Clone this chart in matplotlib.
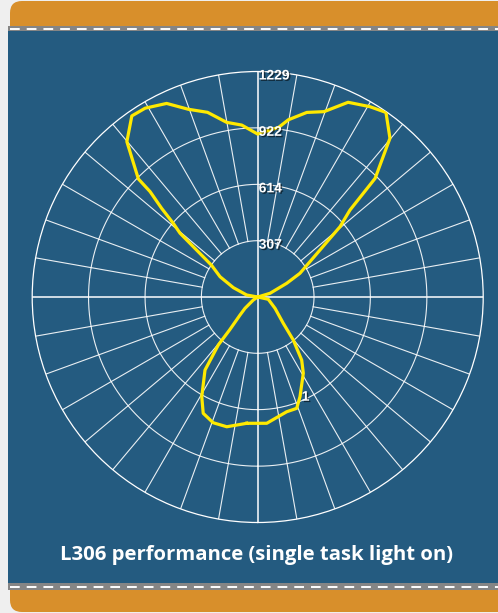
import numpy as np
import matplotlib
matplotlib.use('Agg')
import matplotlib.pyplot as plt
import matplotlib.patches as patches
import matplotlib.patheffects as pe

# luminous intensity (cd)
# angle: 0 = down, 90 = left, 180 = up, 270 = right
angles = [5.0, 13.4, 19.5, 25.1, 29.3, 35.8, 39.4, 40.5, 44.5, 48.3, 55.7, 78,
          100.3, 111, 118.3, 124.5, 129.4, 131.1, 132.7, 134.4, 134.7, 139.9, 145.2, 149.2,
          154.8, 159.7, 164.8, 169.9, 174.7, 180, 187, 189.8, 194.9, 199.7,
          204.9, 210.5, 214.8, 219.8, 224.7, 226.7, 229.5, 240.7, 244.7, 253.3,
          268, 282.2, 303.2, 315.8, 320.4, 325.1, 329.1, 337, 340.7, 345.8, 355.9]
candela = [691, 727, 727, 700, 623, 491, 338, 235, 137, 93, 29, 0,
           61, 142, 233, 305, 548, 610, 712, 821, 915, 1107, 1202, 1198,
           1166, 1091, 1043, 967, 941, 888, 931, 980, 1041, 1073,
           1170, 1204, 1225, 1126, 910, 691, 590, 264, 175, 70,
           0, 59, 113, 200, 304, 419, 484, 590, 643, 645, 690]
ring_values = [307, 614, 922, 1229]
ring_labels = ['307', '614', '922', '1229']
extra_label = '1'
extra_pos = (336.2, 594)
title = 'L306 performance (single task light on)'

W, H = 498, 613
blue = '#245b80'
orange = '#d88f2b'

fig = plt.figure(figsize=(W / 100, H / 100), dpi=100)
fig.patch.set_facecolor('#efefef')

# background panel in pixel units
bg = fig.add_axes([0, 0, 1, 1])
bg.set_xlim(0, W)
bg.set_ylim(H, 0)
bg.axis('off')
bg.add_patch(patches.FancyBboxPatch((10, 1), W + 20, 40, boxstyle='round,pad=0,rounding_size=12',
                                    fc=orange, ec='none'))
bg.add_patch(patches.Rectangle((8, 26), W, 5, fc='#858585', ec='none'))
bg.add_patch(patches.FancyBboxPatch((10, 570), W + 20, 42, boxstyle='round,pad=0,rounding_size=12',
                                    fc=orange, ec='none'))
bg.add_patch(patches.Rectangle((8, 583), W, 7, fc='#858585', ec='none'))
bg.add_patch(patches.Rectangle((8, 31), W, 552, fc=blue, ec='none'))
bg.plot([10, W], [28.6, 28.6], color='white', lw=1.4, linestyle=(0, (5, 3.6)))
bg.plot([10, W], [586.5, 586.5], color='white', lw=1.4, linestyle=(0, (5, 3.6)))

# polar diagram
ax = fig.add_axes([32.2 / W, 90.5 / H, 451 / W, 451 / H], projection='polar')
ax.set_theta_zero_location('S')
ax.set_theta_direction(-1)
ax.set_ylim(0, ring_values[-1])
ax.set_facecolor('none')
ax.grid(False)
ax.set_xticks([])
ax.set_yticks([])
ax.spines['polar'].set_color('white')
ax.spines['polar'].set_linewidth(0.9)

gl = dict(color='white', lw=0.8, alpha=0.9, zorder=1)
full = np.linspace(0, 2 * np.pi, 361)
for v in ring_values[:-1]:
    ax.plot(full, np.full_like(full, v), **gl)
for a in range(0, 360, 10):
    t = np.radians(a)
    if a % 90 == 0:
        ax.plot([t, t], [0, ring_values[-1]], color='white', lw=1.1, zorder=1)
    else:
        ax.plot([t, t], [ring_values[0], ring_values[-1]], **gl)

th = np.radians(angles + angles[:1])
rr = candela + candela[:1]
ax.plot(th, rr, color='#ffe900', lw=2.3, zorder=3, solid_joinstyle='round')

shadow = [pe.SimplePatchShadow(offset=(1, -1), shadow_rgbFace='black', alpha=0.55), pe.Normal()]
for v, lab in zip(ring_values, ring_labels):
    ax.annotate(lab, xy=(np.pi, v), xytext=(1, -4), textcoords='offset pixels',
                ha='left', va='center', fontsize=10, fontweight='bold',
                family='Liberation Sans', color='white', path_effects=shadow, zorder=4)
ax.text(np.radians(extra_pos[0]), extra_pos[1], extra_label, ha='left', va='center',
        fontsize=10, fontweight='bold', family='Liberation Sans', color='white',
        path_effects=shadow, zorder=4)

fig.text(256.5 / W, 1 - 555 / H, title, ha='center', va='center', fontsize=14.6,
         fontweight='bold', family='Open Sans', color='white')

fig.savefig('out.png', dpi=100, facecolor=fig.get_facecolor())
